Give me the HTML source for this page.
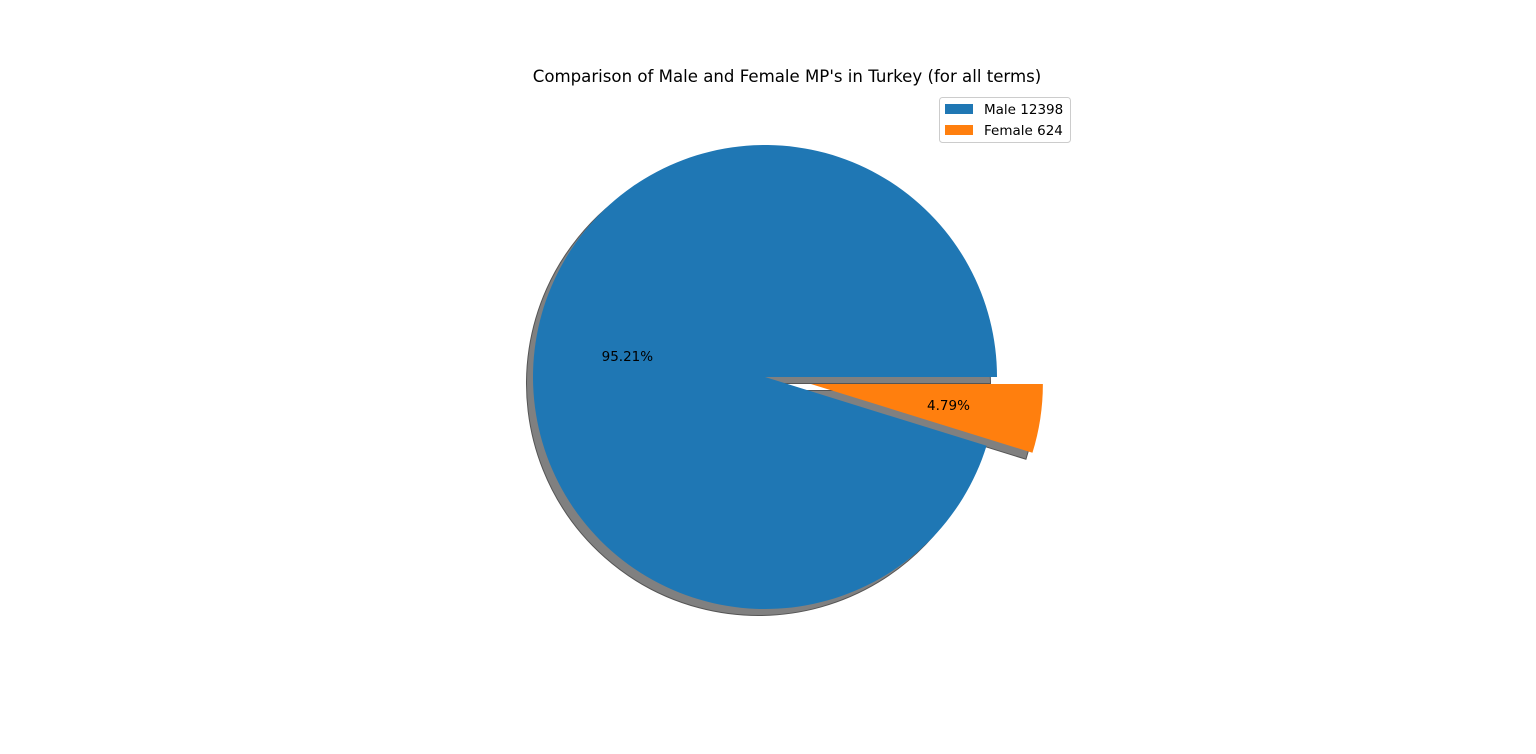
<!DOCTYPE html>
<html><head><meta charset="utf-8">
<style>
html,body{margin:0;padding:0;background:#fff;}
svg{display:block;font-family:"DejaVu Sans","Liberation Sans",sans-serif;}
</style></head>
<body>
<svg id="chart" width="1536" height="754" viewBox="0 0 1536 754">
<rect width="1536" height="754" fill="#fff"/>
<text x="787" y="82" font-size="16.6" text-anchor="middle" fill="#000">Comparison of Male and Female MP's in Turkey (for all terms)</text>
<g id="shadows"></g>
<g id="slices"></g>
<g id="labels"></g>
<g>
<rect x="939.5" y="97.5" width="131" height="45" rx="3" fill="#fff" stroke="#ccc"/>
<g>
<rect x="945" y="104" width="28" height="10" fill="#1f77b4"/>
<text x="984" y="114" font-size="13.5" fill="#000">Male 12398</text>
</g>
<g>
<rect x="945" y="125" width="28" height="10" fill="#ff7f0e"/>
<text x="984" y="135" font-size="13.5" fill="#000">Female 624</text>
</g>
</g>
</svg>
<script>
const categories = ["Male", "Female"];
const values = [12398, 624];
const explodes = [0, 0.2];
const colors = ["#1f77b4", "#ff7f0e"];

const NS = "http://www.w3.org/2000/svg";
const cx = 765, cy = 377, R = 232;
const total = values.reduce((a, b) => a + b, 0);
let start = 0;
function pt(x, y, r, a) { return [x + r * Math.cos(a), y - r * Math.sin(a)]; }
function wedge(x, y, a0, a1) {
  const p0 = pt(x, y, R, a0), p1 = pt(x, y, R, a1);
  const large = (a1 - a0) > Math.PI ? 1 : 0;
  return `M${x},${y} L${p0[0]},${p0[1]} A${R},${R} 0 ${large} 0 ${p1[0]},${p1[1]} Z`;
}
values.forEach((v, i) => {
  const frac = v / total;
  const a0 = start * 2 * Math.PI, a1 = (start + frac) * 2 * Math.PI;
  const mid = (a0 + a1) / 2;
  const ox = cx + explodes[i] * R * Math.cos(mid), oy = cy - explodes[i] * R * Math.sin(mid);
  const sh = document.createElementNS(NS, "path");
  sh.setAttribute("d", wedge(ox - 6.5, oy + 6.5, a0, a1));
  sh.setAttribute("fill", "#808080");
  sh.setAttribute("stroke", "#555");
  sh.setAttribute("stroke-width", "1");
  
  
  document.getElementById("shadows").appendChild(sh);
  const p = document.createElementNS(NS, "path");
  p.setAttribute("d", wedge(ox, oy, a0, a1));
  p.setAttribute("fill", colors[i]);
  
  
  document.getElementById("slices").appendChild(p);
  const lp = pt(ox, oy, 0.6 * R, mid);
  const t = document.createElementNS(NS, "text");
  t.setAttribute("x", lp[0]); t.setAttribute("y", lp[1] + 5);
  t.setAttribute("font-size", "13.5"); t.setAttribute("text-anchor", "middle");
  t.textContent = (frac * 100).toFixed(2) + "%";
  
  
  document.getElementById("labels").appendChild(t);
  start += frac;
});
</script>
</body></html>
